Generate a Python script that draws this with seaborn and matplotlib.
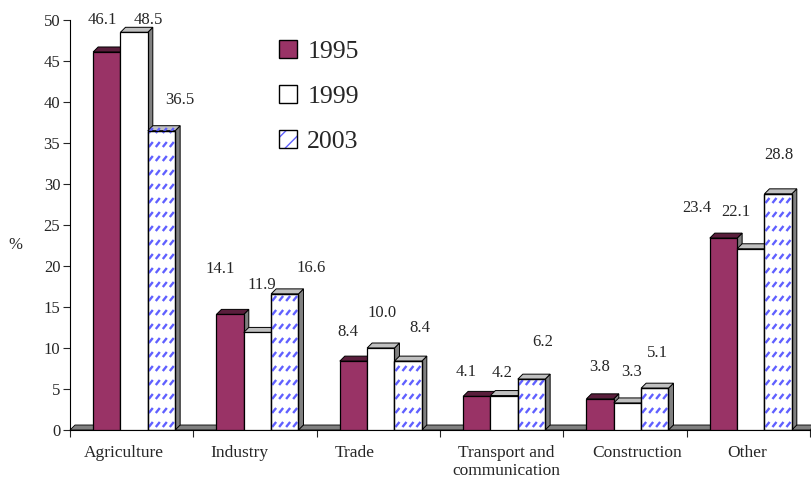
import numpy as np
import pandas as pd
import matplotlib
matplotlib.use("Agg")
import matplotlib.pyplot as plt
from matplotlib.patches import Polygon, Patch, Rectangle
from matplotlib.collections import LineCollection
from matplotlib.transforms import IdentityTransform
import seaborn as sns

# Employment by sector, share of total (%)
sectors = ["Agriculture", "Industry", "Trade", "Transport and\ncommunication",
           "Construction", "Other"]
years = ["1995", "1999", "2003"]
share_1995 = [46.1, 14.1, 8.4, 4.1, 3.8, 23.4]
share_1999 = [48.5, 11.9, 10.0, 4.2, 3.3, 22.1]
share_2003 = [36.5, 16.6, 8.4, 6.2, 5.1, 28.8]

# placement of each value label relative to the top centre of its bar (pixels)
label_dx = [[-4.5, 14, 18.5], [-10, 4, 26], [-6, 1, 12],
            [-11, -2, 11], [-1, 4, 3], [-27, -15, 1]]
label_dy = [[32, 12, 31], [45, 47, 26], [29, 35, 33],
            [24, 23, 37], [32, 31, 35], [30, 37, 39]]
# horizontal nudge of the category names (pixels)
name_dx = [-8, -16, -24, 5, 12, -1.5]

df = pd.DataFrame({
    "sector": np.repeat(sectors, 3),
    "year": years * len(sectors),
    "share": [v for trio in zip(share_1995, share_1999, share_2003) for v in trio],
})

sns.set_style("white")
plt.rcParams["font.family"] = ["Liberation Serif", "DejaVu Serif"]

W, H = 811, 480
PX = 0.72  # points per pixel at 100 dpi
fig = plt.figure(figsize=(W / 100, H / 100), dpi=100)
ax = fig.add_axes([70 / W, 50 / H, 740 / W, 410 / H])
unit = 740 / 6  # pixels per category

face = {"1995": "#993366", "1999": "#ffffff", "2003": "#ffffff"}
top_col = {"1995": "#5a1e3c", "1999": "#c0c0c0", "2003": "#c0c0c0"}
side_col = "#808080"
hatch_col = "#6060ff"

sns.barplot(data=df, x="sector", y="share", hue="year", palette=face,
            width=0.665, edgecolor="black", linewidth=0.9, saturation=1,
            legend=False, ax=ax)

ax.set_xlim(-0.5, 5.5)
ax.set_ylim(0, 50)

# depth of the pseudo-3D faces in data units
dx = 5 / unit
dy = 5 / 8.2
shift = 0.02  # groups sit slightly right of the category centre

# floor
ax.add_patch(Polygon([(-0.5, 0), (5.5, 0), (5.5 + dx, dy), (-0.5 + dx, dy)],
                     closed=True, facecolor="#808080", edgecolor="black",
                     linewidth=0.6, zorder=1, clip_on=False))

for k, (yr, cont) in enumerate(zip(years, ax.containers)):
    for i, bar in enumerate(cont.patches):
        bar.set_x(bar.get_x() + shift)
        x0 = bar.get_x()
        x1 = x0 + bar.get_width()
        h = bar.get_height()
        zf = 3 + 2 * k
        bar.set_zorder(zf + 0.5)
        side = Polygon([(x1, 0), (x1 + dx, dy), (x1 + dx, h + dy), (x1, h)],
                       closed=True, facecolor=side_col, edgecolor="black",
                       linewidth=0.7, zorder=zf, clip_on=False)
        top = Polygon([(x0, h), (x0 + dx, h + dy), (x1 + dx, h + dy), (x1, h)],
                      closed=True, facecolor=top_col[yr], edgecolor="black",
                      linewidth=0.7, zorder=zf, clip_on=False)
        ax.add_patch(side)
        ax.add_patch(top)
        if yr == "2003":
            # dashed diagonal fill pattern, drawn in pixel space
            (px0, py0), (px1, py1) = ax.transData.transform([(x0, 0), (x1, h)])
            segs = []
            for yy in np.arange(py0 + 3, py1, 14):
                for xx in np.arange(px0 + 1, px1, 7):
                    segs.append([(xx, yy), (xx + 4, yy + 5)])
            lc = LineCollection(segs, colors=hatch_col, linewidths=1.7,
                                transform=IdentityTransform(), zorder=zf + 0.6)
            lc.set_clip_path(bar)
            ax.add_collection(lc, autolim=False)
            ax.add_patch(Rectangle((x0, 0), x1 - x0, h, facecolor="none",
                                   edgecolor="black", linewidth=0.9,
                                   zorder=zf + 0.7))
        ax.annotate(f"{h:.1f}", xy=((x0 + x1) / 2, h),
                    xytext=(label_dx[i][k] * PX, label_dy[i][k] * PX),
                    textcoords="offset points", ha="center", va="center",
                    fontsize=12, annotation_clip=False, zorder=20)

# axes styling
for s in ("top", "right"):
    ax.spines[s].set_visible(False)
for s in ("left", "bottom"):
    ax.spines[s].set_color("black")
    ax.spines[s].set_linewidth(0.8)

ax.set_yticks(np.arange(0, 51, 5))
ax.tick_params(axis="y", direction="out", length=5, width=0.8, labelsize=12,
               pad=2, left=True)
ax.set_xticks([i + d / unit for i, d in enumerate(name_dx)])
ax.set_xticklabels(sectors, fontsize=12.5, linespacing=1.2)
ax.tick_params(axis="x", which="major", length=0, pad=10.5)
ax.set_xticks(np.arange(-0.5, 6.0, 1.0), minor=True)
ax.tick_params(axis="x", which="minor", direction="out", length=5, width=0.8,
               bottom=True)
ax.set_xlabel("")
ax.set_ylabel("")
fig.text(15 / W, 1 - 245 / H, "%", ha="center", va="center", fontsize=12)

# legend
handles = [
    Patch(facecolor=face["1995"], edgecolor="black", linewidth=1.0),
    Patch(facecolor=face["1999"], edgecolor="black", linewidth=1.0),
    (Patch(facecolor="white", edgecolor=hatch_col, linewidth=0, hatch="//"),
     Patch(facecolor="none", edgecolor="black", linewidth=1.0)),
]
ax.legend(handles, years, loc="upper left",
          bbox_to_anchor=(279 / W, 1 - 40 / H), bbox_transform=fig.transFigure,
          frameon=False, fontsize=18.5, borderaxespad=0, borderpad=0,
          handlelength=0.7, handleheight=0.7, handletextpad=0.4,
          labelspacing=0.85)

fig.savefig("out.png", dpi=100)
